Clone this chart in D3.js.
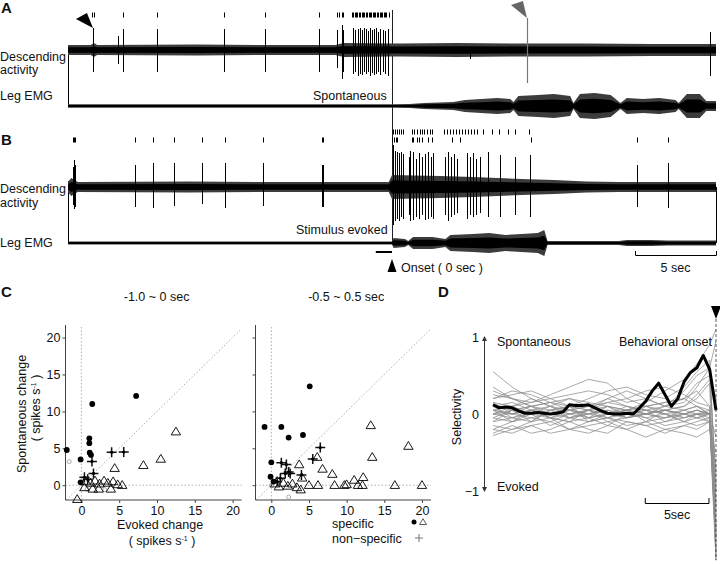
<!DOCTYPE html>
<html><head><meta charset="utf-8">
<script src="https://cdn.jsdelivr.net/npm/d3@7"></script>
<style>
body{margin:0;background:#fff}
svg{display:block}
text{font-family:"Liberation Sans",Arial,Helvetica,sans-serif;fill:#111}
</style>
</head><body>
<svg id="chart" width="720" height="564"></svg>
<script>
// ---------------- DATA ----------------
// Panels A/B: time in seconds relative to behavioural onset (0 s)
const traceDomain = [-20, 20];

// Noise envelopes [time s, peak half-amplitude a.u.]
const envDescA = [[-20,5],[-18.6,5],[-18.4,7],[-18.2,5],[-12,5.5],[-8,5],[-3.5,5],[-3,7],[0,6.5],[0.5,6.5],[4,7],[8,6.5],[12,6.5],[16,6],[20,6]];
const envEmgA  = [[-20,1.8],[0,1.8],[1.1,2],[2,3],[3.8,4],[4.5,6],[5.5,7],[6.5,8],[7.3,7],[7.5,4],[7.8,10],[9,11],[10,12],[11,10],[11.2,3],[11.6,12],[12.5,13],[13.5,11],[14.1,3],[14.5,8],[15.5,7],[16.5,8],[17.5,6],[17.7,3],[18.2,12],[19,12],[19.4,5],[20,5]];
const envDescB = [[-20,5],[-19.8,9],[-19.4,5],[-12.5,5.5],[-8,5],[-0.2,5],[0,12],[3,11],[5,10],[8,8],[10,7],[12,5.5],[14,5],[20,5]];
const envEmgB  = [[-20,1.6],[0,1.6],[0.1,5],[0.8,4],[1,2],[1.3,6],[2.5,6],[3.3,4],[3.6,8],[5,9],[6,10],[7,8],[8,9],[9,10],[9.4,13],[9.6,2],[10,2],[14,2],[14.5,3],[16,3],[17,2.5],[20,2.5]];

// Spikes [time s, upward amplitude, downward amplitude]
const spikesA = [[-18.46,22,22],[-16.91,14,14],[-16.6,21,22],[-14.5,21,22],[-10.37,21,22],[-7.84,21,22],[-4.5,21,22],
  [-3.4,20,18],[-3.1,25,29],[-3.0,20,22],[-2.41,22,24],[-2.28,20,22],[-2.1,21,26],[-1.98,22,24],[-1.85,20,25],[-1.73,22,22],
  [-1.6,21,24],[-1.48,19,22],[-1.36,22,26],[-1.23,20,23],[-1.11,21,25],[-0.99,22,24],[-0.86,18,22],[-0.74,21,25],[-0.56,20,22],
  [-0.43,19,24],[-0.25,21,26],[4.81,3,9],[19.63,18,26]];
const markedSpikeA = [8.33,32,33];
const rasterA = [-18.5,-18.42,-16.6,-14.5,-10.37,-7.84,-4.5,-3.4,-3.28,-3.1,-3.0,-2.47,-2.38,-2.3,-2.22,-2.13,-2.05,-1.96,-1.88,
  -1.79,-1.7,-1.62,-1.54,-1.45,-1.36,-1.28,-1.2,-1.11,-1.02,-0.94,-0.85,-0.77,-0.68,-0.6,-0.51,-0.42,-0.34,-0.2];

const spikesB = [[-19.7,20,18],[-19.63,27,22],[-19.55,22,20],[-15.86,22,20],[-14.75,24,21],[-13.46,24,19],[-11.73,24,17],
  [-10.31,24,21],[-7.96,24,19],[-4.32,22,20],[-4.23,22,20],
  [0.04,42,38],[0.19,36,34],[0.31,35,32],[0.43,34,34],[0.56,35,30],[0.68,33,32],[1.05,30,28],[1.14,36,34],[1.3,35,33],
  [1.48,28,30],[1.67,34,32],[1.85,30,28],[2.04,33,33],[2.22,35,32],[2.41,30,30],[2.53,34,32],[3.27,30,28],[3.46,35,34],
  [3.64,30,30],[3.83,33,28],[4.01,28,26],[4.63,34,32],[4.81,30,28],[5.0,34,30],[5.19,28,28],[5.43,30,26],[5.93,35,30],
  [6.67,32,30],[7.59,30,28],[8.52,32,30],[15.12,22,20],[17.04,24,21]];
const rasterB1 = [0.06,0.19,0.31,0.43,0.56,0.68,1.23,1.36,1.54,1.73,1.85,1.98,2.16,2.35,2.47,3.21,3.4,3.58,3.77,3.95,4.14,
  4.32,4.51,4.69,4.88,5.06,5.25,5.62,6.17,6.6,7.16,7.59,8.46];
const rasterB2 = [-19.7,-19.63,-19.55,-15.86,-14.75,-13.46,-11.73,-10.31,-7.96,-4.32,-4.23,0.0,0.12,0.25,0.31,1.23,1.3,
  1.54,1.67,1.85,2.22,2.47,3.7,4.2,8.58,15.12,17.04];

// Panel C: [evoked change, spontaneous change] (spikes/s)
const c1Circles = [[-1.93,4.77],[-0.1,3.5],[-0.1,0.4],[1.44,11.0],[7.24,12.1],[1.05,6.35],[1.05,5.7],[1.1,4.4],[1.27,4.1]];
const c1Crosses = [[1.4,3.2],[4.0,4.45],[5.6,4.5],[1.6,1.6],[0.4,1.07],[0.83,0.8]];
const c1Triangles = [[4.4,2.3],[8.2,2.7],[10.5,3.55],[12.5,7.25],[5.4,0.0],[3.9,-0.5],[-0.55,-1.9],
  [0.6,0.5],[1.2,0.3],[1.8,0.6],[2.4,0.2],[3.0,0.6],[3.5,0.3],[4.2,0.5],[4.8,0.1],[0.4,-0.3],[1.5,-0.5],[2.3,-0.5]];
const c1Gray = [[-1.6,3.2],[0.75,-0.55],[3.1,-0.6]];

const c2Circles = [[-0.9,7.9],[1.33,7.9],[5.1,13.4],[2.3,6.45],[4.2,6.8],[0.0,3.1],[-0.1,1.15],[0.3,0.5]];
const c2Crosses = [[6.5,5.1],[5.5,3.55],[1.33,3.05],[2.0,2.8],[2.3,1.8],[2.5,1.6],[4.0,1.4],[1.2,0.93],[0.77,0.5],[1.85,1.6]];
const c2Triangles = [[13.2,8.1],[18.2,5.3],[13.4,3.8],[6.1,3.8],[3.7,2.8],[6.8,2.2],[8.1,1.5],[4.1,1.0],[11.0,0.7],[12.2,1.07],
  [5.0,0.0],[6.2,0.0],[8.4,0.0],[9.7,0.0],[10.0,0.1],[11.5,0.0],[12.1,0.0],[16.4,0.0],[20.0,0.0],
  [0.5,0.2],[1.0,-0.2],[1.6,0.3],[2.2,-0.1],[2.8,0.2],[3.4,-0.3],[3.9,-0.6]];
const c2Gray = [[2.3,-1.6],[0.0,0.0]];
const cTicks = [0,5,10,15,20];

// Panel D: selectivity time courses
const dTimes = [-17.5,-16,-14.5,-13,-11.5,-10,-8.5,-7,-5.5,-4,-2.5,-1.5,-0.5,0];
const dGrayLines = [
  [0.55,0.35,0.2,0.1,0.05,0.1,0.0,0.05,0.1,0.05,0.0,0.05,0.0,-1.8],
  [0.25,0.2,0.15,0.25,0.35,0.45,0.4,0.2,0.1,0.15,0.2,0.3,0.1,-1.5],
  [0.2,0.3,0.25,0.15,0.1,0.2,0.3,0.35,0.25,0.2,0.35,0.55,0.7,-1.2],
  [0.15,0.1,0.2,0.1,0.2,0.15,0.1,0.05,0.15,0.3,0.45,0.65,0.9,1.1],
  [0.1,0.15,0.05,-0.05,0.05,0.1,0.2,0.1,0.05,0.1,0.3,0.5,0.6,-0.9],
  [0.05,0.0,0.1,0.05,-0.05,0.0,0.05,-0.05,0.0,0.05,0.1,0.2,0.4,-1.9],
  [0.0,-0.05,0.05,0.0,0.1,0.05,0.0,0.05,-0.05,0.0,0.05,0.1,0.05,-1.7],
  [-0.05,0.05,-0.1,0.05,0.0,-0.05,0.1,0.0,0.05,-0.1,0.0,0.05,0.0,-1.4],
  [-0.1,-0.05,0.0,-0.15,-0.05,0.05,-0.1,-0.05,0.0,0.05,-0.05,0.0,0.05,-1.1],
  [-0.15,-0.2,-0.1,-0.05,-0.2,-0.1,-0.05,-0.15,-0.1,-0.05,0.0,-0.05,0.0,-0.7],
  [-0.25,-0.15,-0.25,-0.2,-0.1,-0.2,-0.25,-0.1,-0.15,-0.25,-0.15,-0.1,-0.05,-1.6],
  [-0.28,-0.2,-0.15,-0.25,-0.2,-0.15,-0.1,-0.2,-0.3,-0.2,-0.25,-0.3,-0.2,-0.5],
  [0.3,0.2,0.1,0.15,0.2,0.1,0.15,0.2,0.3,0.35,0.25,0.15,0.1,-1.0],
  [0.2,0.25,0.3,0.2,0.25,0.3,0.25,0.15,0.2,0.1,0.15,0.35,0.6,0.95],
  [0.05,0.1,0.0,0.05,0.1,-0.05,0.0,0.1,0.05,0.0,-0.1,-0.15,-0.1,-1.3],
  [-0.05,-0.1,-0.05,-0.1,0.0,0.05,-0.05,-0.1,-0.15,-0.1,-0.05,0.0,0.0,-1.85],
  [0.1,0.05,0.1,0.15,0.05,0.0,0.1,0.05,0.1,0.15,0.2,0.1,0.0,-0.3],
  [-0.2,-0.1,0.05,-0.05,-0.1,-0.05,-0.15,0.0,-0.05,-0.15,-0.1,0.0,-0.05,-1.75],
  [0.0,0.0,-0.05,0.0,0.05,0.0,-0.05,0.0,0.05,0.0,-0.05,0.0,0.0,-1.6],
  [0.15,0.0,0.05,0.1,0.0,0.05,0.15,0.1,0.0,0.05,0.1,0.25,0.45,-0.8],
  [0.0,0.05,0.0,-0.05,0.0,0.05,0.0,-0.05,0.0,0.05,0.0,0.0,0.0,-1.2],
  [0.05,0.0,0.05,0.0,-0.05,0.0,0.05,0.0,0.0,-0.05,0.0,0.05,0.0,-1.5],
  [0.1,-0.05,-0.1,0.05,0.1,-0.1,-0.05,0.05,0.0,-0.05,0.05,0.1,0.0,-1.0],
  [-0.1,0.05,0.1,-0.05,-0.1,0.05,0.1,-0.05,0.1,0.0,-0.1,-0.05,0.0,-1.65],
  [0.05,-0.1,0.0,0.1,-0.05,-0.1,0.0,0.05,-0.1,0.05,0.0,-0.05,-0.1,-1.9],
  [-0.2,-0.25,-0.15,-0.1,-0.2,-0.25,-0.15,-0.2,-0.1,-0.2,-0.15,-0.2,-0.1,-1.45],
  [0.0,0.1,0.15,0.2,0.1,0.05,0.2,0.3,0.2,0.1,0.2,0.4,0.5,0.2],
  [0.35,0.2,0.1,0.0,0.05,-0.05,0.0,0.05,0.0,0.1,0.05,0.0,-0.1,-1.25]
];
const dThickTimes = [-17.5,-17,-16.5,-16,-15.5,-15,-14.5,-14,-13.5,-13,-12.5,-12,-11.5,-11,-10.5,-10,-9.5,-9,-8.5,-8,
  -7.5,-7,-6.5,-6,-5.5,-5,-4.5,-4,-3.5,-3,-2.5,-2,-1.5,-1,-0.5,0];
const dThick = [0.12,0.08,0.09,0.08,0.04,0.01,0.01,0.02,0.01,0.0,0.01,0.03,0.12,0.11,0.11,0.12,0.08,0.04,0.01,0.0,
  0.0,0.01,0.0,0.08,0.17,0.30,0.40,0.25,0.10,0.20,0.42,0.54,0.60,0.76,0.58,0.05];

// ---------------- DRAWING ----------------
const svg = d3.select("#chart");
const xT = d3.scaleLinear().domain(traceDomain).range([68, 716]);
const amp = d3.scaleLinear().domain([0, 40]).range([0, 40]);
const crisp = v => Math.round(v) + 0.5;

function label(x, y, txt, opts = {}) {
  const t = svg.append("text").attr("x", x).attr("y", y).text(txt)
    .style("font-size", (opts.size || 12.5) + "px");
  if (opts.anchor) t.attr("text-anchor", opts.anchor);
  if (opts.bold) t.style("font-weight", "bold");
  return t;
}

function trace(base, env, spikes) {
  const g = svg.append("g");
  // outer (peak) envelope in dark grey, dense core in black
  g.append("path").datum(env)
    .attr("d", d3.area().x(d => xT(d[0])).y0(d => base + amp(d[1])).y1(d => base - amp(d[1])))
    .attr("fill", "#3c3c3c");
  g.append("path").datum(env)
    .attr("d", d3.area().x(d => xT(d[0])).y0(d => base + amp(d[1]) * 0.55).y1(d => base - amp(d[1]) * 0.55))
    .attr("fill", "#000");
  if (spikes) {
    g.selectAll("line").data(spikes).join("line")
      .attr("x1", d => crisp(xT(d[0]))).attr("x2", d => crisp(xT(d[0])))
      .attr("y1", d => base - amp(d[1])).attr("y2", d => base + amp(d[2]))
      .attr("stroke", "#000").attr("stroke-width", 1);
  }
  return g;
}
function raster(y, times) {
  svg.append("g").selectAll("line").data(times).join("line")
    .attr("x1", d => crisp(xT(d))).attr("x2", d => crisp(xT(d)))
    .attr("y1", y - 2.5).attr("y2", y + 2.5)
    .attr("stroke", "#000").attr("stroke-width", 1);
}

// ---- Panel A ----
const baseA = 50, emgA = 106, baseB = 187, emgB = 243;
label(1, 13, "A", {size: 15, bold: true});
label(0, 61, "Descending");
label(0, 74, "activity");
label(0, 100, "Leg EMG");
// onset line through A and B
svg.append("line").attr("x1", crisp(xT(0))).attr("x2", crisp(xT(0))).attr("y1", 10).attr("y2", emgB + 2)
  .attr("stroke", "#222").attr("stroke-width", 1);
svg.append("line").attr("x1", crisp(xT(-20))).attr("x2", crisp(xT(-20))).attr("y1", baseA).attr("y2", emgA).attr("stroke", "#000");
raster(15, rasterA);
trace(baseA, envDescA, spikesA);
svg.append("line").attr("x1", crisp(xT(markedSpikeA[0]))).attr("x2", crisp(xT(markedSpikeA[0])))
  .attr("y1", baseA - amp(markedSpikeA[1])).attr("y2", baseA + amp(markedSpikeA[2]))
  .attr("stroke", "#777").attr("stroke-width", 1.2);
trace(emgA, envEmgA, null);
label(313, 100, "Spontaneous");
// arrowheads
{
  const tx = xT(spikesA[0][0]), ty = baseA - amp(spikesA[0][1]);
  svg.append("path").attr("d", `M${tx},${ty}L${tx-17},${ty-9}L${tx-6},${ty-15}Z`).attr("fill", "#000");
  const gx = xT(markedSpikeA[0]), gy = baseA - amp(markedSpikeA[1]);
  svg.append("path").attr("d", `M${gx},${gy}L${gx-16},${gy-13}L${gx-4},${gy-17}Z`).attr("fill", "#666");
}

// ---- Panel B ----
label(1, 145, "B", {size: 15, bold: true});
label(0, 193, "Descending");
label(0, 207, "activity");
label(0, 247, "Leg EMG");
svg.append("line").attr("x1", crisp(xT(-20))).attr("x2", crisp(xT(-20))).attr("y1", baseB - 6).attr("y2", emgB).attr("stroke", "#000");
svg.append("line").attr("x1", crisp(xT(20))).attr("x2", crisp(xT(20))).attr("y1", baseB).attr("y2", emgB).attr("stroke", "#000");
raster(132, rasterB1);
raster(140, rasterB2);
trace(baseB, envDescB, spikesB);
trace(emgB, envEmgB, null);
label(296, 234, "Stimulus evoked");
// onset marker
svg.append("line").attr("x1", xT(-1)).attr("x2", xT(0)).attr("y1", 252).attr("y2", 252)
  .attr("stroke", "#000").attr("stroke-width", 2);
svg.append("path").attr("d", `M${xT(0)},259L${xT(0)+4.5},272L${xT(0)-4.5},272Z`).attr("fill", "#000");
label(401, 272, "Onset ( 0 sec )");
// 5 sec scale bar
svg.append("path").attr("d", `M${crisp(xT(15))},251V255.5H${crisp(xT(20))}V251`).attr("fill", "none").attr("stroke", "#000");
label((xT(15) + xT(20)) / 2, 272, "5 sec", {anchor: "middle"});

// ---- Panel C ----
label(1, 297, "C", {size: 15, bold: true});
const yC = d3.scaleLinear().domain([-2, 21.7]).range([500, 325]);
const triPath = "M0,-4.6L4.7,3.2L-4.7,3.2Z";
const crossPath = "M-5,0H5M0,-5V5";

function scatter(r0, r1, title, circles, crosses, tris, grays, showY) {
  const xC = d3.scaleLinear().domain([-2.1, 21.2]).range([r0, r1]);
  const g = svg.append("g");
  label((r0 + r1) / 2 + 3, 301, title, {anchor: "middle"});
  const dot = {stroke: "#999", "stroke-width": 0.8, "stroke-dasharray": "1.5,2"};
  const dl = (x1, y1, x2, y2) => {
    const l = g.append("line").attr("x1", x1).attr("y1", y1).attr("x2", x2).attr("y2", y2);
    Object.entries(dot).forEach(([k, v]) => l.attr(k, v));
  };
  dl(xC(0), yC(-2), xC(0), yC(21.7));
  dl(xC(-2.1), yC(0), xC(21.2), yC(0));
  dl(xC(-2), yC(-2), xC(21.2), yC(21.2));
  // L-shaped frame
  g.append("path").attr("d", `M${r0},${yC(21.7)}V${yC(-2)}H${r1}`).attr("fill", "none")
    .attr("stroke", "#444").attr("stroke-width", 1);
  const ax = g.append("g").attr("transform", `translate(0,${yC(-2)})`)
    .call(d3.axisBottom(xC).tickValues(cTicks).tickSize(3).tickPadding(3));
  ax.select(".domain").remove();
  const ay = g.append("g").attr("transform", `translate(${r0},0)`)
    .call(d3.axisLeft(yC).tickValues(cTicks).tickSize(3).tickPadding(2));
  ay.select(".domain").remove();
  if (!showY) ay.selectAll("text").remove();
  [ax, ay].forEach(a => {
    a.selectAll("text").style("font-size", "12.5px").attr("fill", "#111")
      .style("font-family", '"Liberation Sans",Arial,sans-serif');
    a.selectAll("line").attr("stroke", "#444");
  });
  g.selectAll(".gray").data(grays).join("circle").attr("class", "gray")
    .attr("cx", d => xC(d[0])).attr("cy", d => yC(d[1])).attr("r", 2)
    .attr("fill", "none").attr("stroke", "#999").attr("stroke-width", 0.8);
  g.selectAll(".tri").data(tris).join("path").attr("class", "tri")
    .attr("transform", d => `translate(${xC(d[0])},${yC(d[1])})`).attr("d", triPath)
    .attr("fill", "none").attr("stroke", "#000").attr("stroke-width", 0.9);
  g.selectAll(".cir").data(circles).join("circle").attr("class", "cir")
    .attr("cx", d => xC(d[0])).attr("cy", d => yC(d[1])).attr("r", 2.9).attr("fill", "#000");
  const cr = g.selectAll(".crs").data(crosses).join("g").attr("class", "crs")
    .attr("transform", d => `translate(${xC(d[0])},${yC(d[1])})`);
  cr.append("path").attr("d", crossPath).attr("stroke", "#111").attr("stroke-width", 1.5);
  cr.append("circle").attr("r", 1.6).attr("fill", "#000");
  return xC;
}
scatter(65.5, 241.7, "-1.0 ~ 0 sec", c1Circles, c1Crosses, c1Triangles, c1Gray, true);
scatter(255.5, 431, "-0.5 ~ 0.5 sec", c2Circles, c2Crosses, c2Triangles, c2Gray, false);

// axis titles for C
function spikesUnit(x, y, rotate) {
  const t = svg.append("text").attr("text-anchor", "middle").style("font-size", "12.5px");
  if (rotate) t.attr("transform", `translate(${x},${y}) rotate(-90)`); else t.attr("x", x).attr("y", y);
  t.append("tspan").text("( spikes s");
  t.append("tspan").text("-1").style("font-size", "7px").attr("dy", -4);
  t.append("tspan").text(" )").attr("dy", 4);
}
svg.append("text").attr("transform", "translate(26,414) rotate(-90)").attr("text-anchor", "middle")
  .style("font-size", "12.5px").text("Spontaneous change");
spikesUnit(40, 408, true);
label(160, 529, "Evoked change", {anchor: "middle"});
spikesUnit(162, 545, false);
// legend
label(332, 528, "specific");
label(332, 543, "non\u2212specific");
svg.append("circle").attr("cx", 414).attr("cy", 522).attr("r", 2.5).attr("fill", "#000");
svg.append("path").attr("transform", "translate(423,522)").attr("d", "M0,-3.3L3.5,2.5L-3.5,2.5Z")
  .attr("fill", "none").attr("stroke", "#333").attr("stroke-width", 0.8);
svg.append("path").attr("transform", "translate(419,538)").attr("d", "M-4,0H4M0,-4V4")
  .attr("stroke", "#777").attr("stroke-width", 1);

// ---- Panel D ----
label(438, 297, "D", {size: 15, bold: true});
const xD = d3.scaleLinear().domain([-17.5, 0]).range([493, 716]);
const yD = d3.scaleLinear().domain([-1, 1]).range([491, 337]);
const lineD = d3.line().x((d, i) => xD(dTimes[i])).y(d => yD(d));
svg.append("g").selectAll("path").data(dGrayLines).join("path")
  .attr("d", lineD).attr("fill", "none").attr("stroke", "#8c8c8c").attr("stroke-width", 0.75);
svg.append("path").datum(dThick)
  .attr("d", d3.line().x((d, i) => xD(dThickTimes[i])).y(d => yD(d)))
  .attr("fill", "none").attr("stroke", "#000").attr("stroke-width", 3).attr("stroke-linejoin", "round");
// onset dashed line and marker
svg.append("line").attr("x1", xD(0)).attr("x2", xD(0)).attr("y1", 319).attr("y2", 560)
  .attr("stroke", "#333").attr("stroke-width", 0.8).attr("stroke-dasharray", "3,2");
svg.append("path").attr("d", `M${xD(0)-5},306H${xD(0)+5}L${xD(0)},319Z`).attr("fill", "#000");
label(712, 346, "Behavioral onset", {anchor: "end"});
// y axis with arrows
svg.append("line").attr("x1", 484.5).attr("x2", 484.5).attr("y1", yD(1)).attr("y2", yD(-1))
  .attr("stroke", "#333").attr("stroke-width", 1);
svg.append("path").attr("d", `M484.5,${yD(1)-1}l-2.5,5h5Z M484.5,${yD(-1)+1}l-2.5,-5h5Z`).attr("fill", "#333");
[[1, "1"], [0, "0"], [-1, "\u22121"]].forEach(([v, s]) =>
  label(479, yD(v) + 4.5, s, {anchor: "end"}));
svg.append("text").attr("transform", `translate(461,${yD(0) + 3}) rotate(-90)`).attr("text-anchor", "middle")
  .style("font-size", "12.5px").text("Selectivity");
label(497, 346, "Spontaneous");
label(497, 491, "Evoked");
svg.append("path").attr("d", `M${xD(-5.55)},498V503.5H${xD(-0.55)}V498`).attr("fill", "none").attr("stroke", "#000");
label((xD(-5.55) + xD(-0.55)) / 2, 519, "5sec", {anchor: "middle"});
</script>
</body></html>
